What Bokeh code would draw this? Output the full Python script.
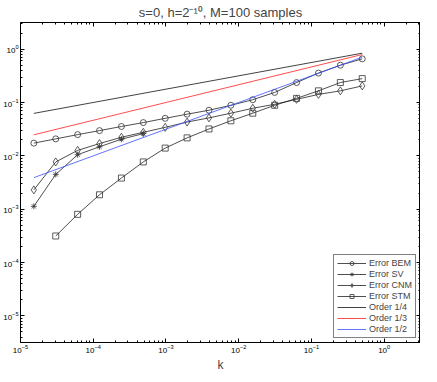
from bokeh.plotting import figure
from bokeh.models import LogAxis, FixedTicker, Legend, LegendItem
from bokeh.embed import file_html
from bokeh.resources import INLINE

# ---- data ----
k = [1.5259e-5, 3.0518e-5, 6.1035e-5, 1.2207e-4, 2.4414e-4, 4.8828e-4,
     9.7656e-4, 1.9531e-3, 3.9063e-3, 7.8125e-3, 1.5625e-2, 3.125e-2,
     6.25e-2, 0.125, 0.25, 0.5]

err_bem = [0.0173, 0.0208, 0.025, 0.0297, 0.0355, 0.042, 0.0505, 0.0604,
           0.0716, 0.0887, 0.1127, 0.1545, 0.2366, 0.356, 0.50, 0.659]
k_sv = [1.5259e-5, 3.0518e-5, 6.1035e-5, 1.2207e-4, 2.4414e-4, 4.8828e-4]
err_sv = [0.00113, 0.00449, 0.0105, 0.0148, 0.0205, 0.0261]
err_cnm = [0.0023, 0.00769, 0.01265, 0.0170, 0.0223, 0.0276, 0.0342, 0.0430,
           0.0515, 0.063, 0.078, 0.0925, 0.1146, 0.1417, 0.1655, 0.2047]
k_stm = [3.0518e-5, 6.1035e-5, 1.2207e-4, 2.4414e-4, 4.8828e-4, 9.7656e-4,
         1.9531e-3, 3.9063e-3, 7.8125e-3, 1.5625e-2, 3.125e-2, 6.25e-2,
         0.125, 0.25, 0.5]
err_stm = [0.000314, 0.0008, 0.00186, 0.00383, 0.00769, 0.01396, 0.0217,
           0.0319, 0.0454, 0.063, 0.0887, 0.1195, 0.1655, 0.2366, 0.2805]

k_ref = [1.5259e-5, 0.5]
order_14 = [0.0625, 0.841]
order_13 = [0.0248, 0.794]
order_12 = [0.0039, 0.707]

x_major = [1e-5, 1e-4, 1e-3, 1e-2, 1e-1, 1e0]
y_major = [1e-5, 1e-4, 1e-3, 1e-2, 1e-1, 1e0]
x_minor = [m * 10.0 ** e for e in range(-5, 1) for m in range(2, 10)]
y_minor = [m * 10.0 ** e for e in range(-6, 1) for m in range(2, 10)]

FONT = "Liberation Sans"

p = figure(frame_width=400, frame_height=320, x_axis_type="log", y_axis_type="log",
           x_range=(1e-5, 10 ** 0.5), y_range=(10 ** -5.5, 10 ** 0.5),
           output_backend="svg", toolbar_location=None,
           title="s=0, h=2\u207b\u00b9\u2070, M=100 samples")
p.min_border_left = 0
p.min_border_right = 0
p.min_border_top = 0
p.min_border_bottom = 0
p.grid.visible = False
p.outline_line_color = "black"
p.outline_line_width = 1
p.background_fill_color = "white"
p.border_fill_color = "white"

p.title.text_font = FONT
p.title.text_font_size = "13px"
p.title.text_font_style = "normal"
p.title.align = "center"
p.title.standoff = 5


def style_axis(ax, ticks, minor, labels=True):
    ax.ticker = FixedTicker(ticks=ticks, minor_ticks=minor)
    ax.axis_line_color = "black"
    ax.major_tick_in = 4
    ax.major_tick_out = 0
    ax.minor_tick_in = 2
    ax.minor_tick_out = 0
    ax.major_tick_line_color = "black"
    ax.minor_tick_line_color = "black"
    ax.major_label_text_font = FONT
    if labels:
        ax.major_label_text_font_size = "8px"
        ax.major_label_standoff = 2
        ax.major_label_text_color = "black"
    else:
        ax.major_label_text_font_size = "1px"
        ax.major_label_standoff = 0
        ax.major_label_text_alpha = 0


style_axis(p.xaxis[0], x_major, x_minor)
style_axis(p.yaxis[0], y_major, y_minor)
p.xaxis[0].axis_label = "k"
p.xaxis[0].axis_label_text_font = FONT
p.xaxis[0].axis_label_text_font_size = "12px"
p.xaxis[0].axis_label_text_font_style = "normal"
p.xaxis[0].axis_label_standoff = 2

top = LogAxis()
style_axis(top, x_major, x_minor, labels=False)
p.add_layout(top, "above")
right = LogAxis()
style_axis(right, y_major, y_minor, labels=False)
p.add_layout(right, "right")

LC = "#222222"
MC = "#333333"
LW = 0.8
MS = 6

r_bem_l = p.line(k, err_bem, line_color=LC, line_width=LW)
r_bem_m = p.scatter(k, err_bem, marker="circle", size=MS, fill_color=None,
                    line_color=MC, line_width=LW)
r_sv_l = p.line(k_sv, err_sv, line_color=LC, line_width=LW)
r_sv_m = p.scatter(k_sv, err_sv, marker="asterisk", size=MS, line_color=MC,
                   line_width=LW)
r_cnm_l = p.line(k, err_cnm, line_color=LC, line_width=LW)
r_cnm_m = p.scatter(k, err_cnm, marker="diamond", size=MS + 2, fill_color=None,
                    line_color=MC, line_width=LW)
r_stm_l = p.line(k_stm, err_stm, line_color=LC, line_width=LW)
r_stm_m = p.scatter(k_stm, err_stm, marker="square", size=MS, fill_color=None,
                    line_color=MC, line_width=LW)
r_o14 = p.line(k_ref, order_14, line_color="#111111", line_width=LW)
r_o13 = p.line(k_ref, order_13, line_color="#ff2020", line_width=LW)
r_o12 = p.line(k_ref, order_12, line_color="#3a50ff", line_width=LW)

legend = Legend(items=[
    LegendItem(label="Error BEM", renderers=[r_bem_l, r_bem_m]),
    LegendItem(label="Error SV", renderers=[r_sv_l, r_sv_m]),
    LegendItem(label="Error CNM", renderers=[r_cnm_l, r_cnm_m]),
    LegendItem(label="Error STM", renderers=[r_stm_l, r_stm_m]),
    LegendItem(label="Order 1/4", renderers=[r_o14]),
    LegendItem(label="Order 1/3", renderers=[r_o13]),
    LegendItem(label="Order 1/2", renderers=[r_o12]),
], location="bottom_right")
legend.label_text_font = FONT
legend.label_text_font_size = "9px"
legend.label_height = 10
legend.glyph_height = 10
legend.glyph_width = 29
legend.spacing = 1
legend.padding = 3
legend.margin = 4
legend.label_standoff = 3
legend.border_line_color = "black"
legend.border_line_width = 1
legend.background_fill_alpha = 1
p.add_layout(legend, "center")

open("out.html", "w").write(file_html(p, INLINE))
